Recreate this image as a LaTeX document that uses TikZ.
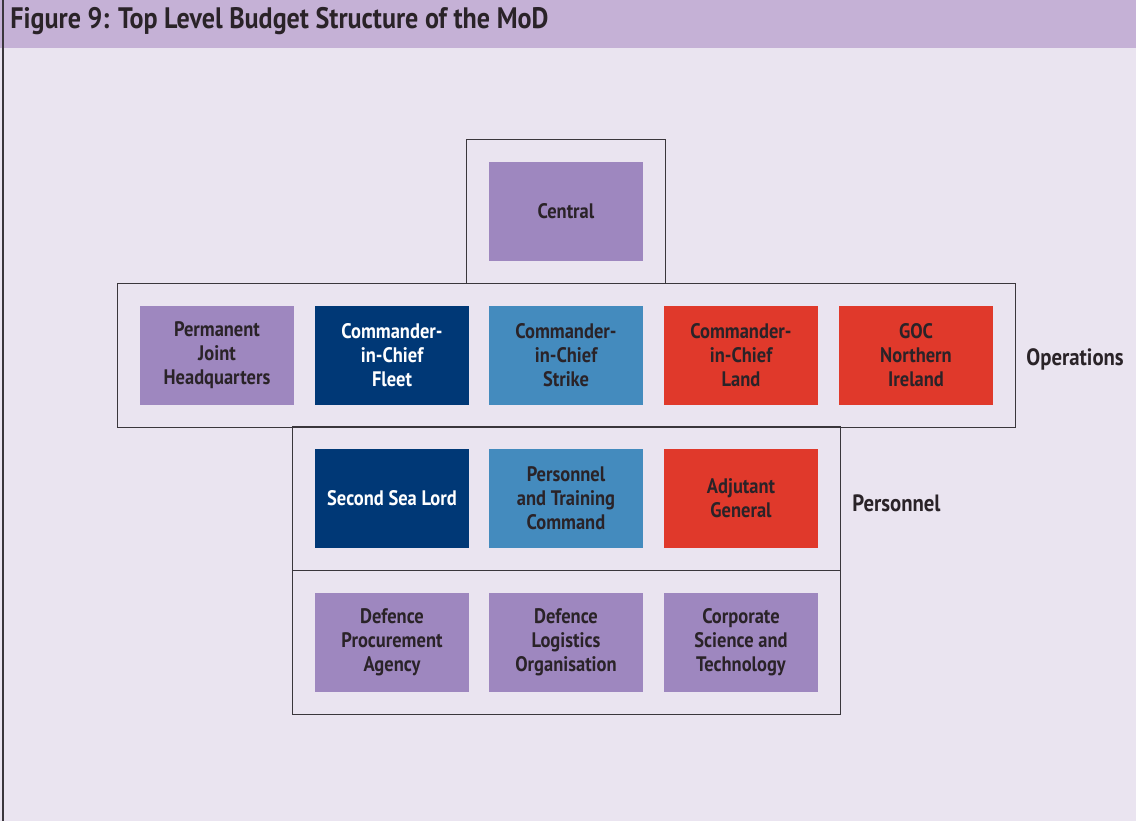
\documentclass[tikz,border=0pt]{standalone}
\usepackage{fontspec}
\setmainfont{PT Sans}[FakeStretch=0.88]
\usetikzlibrary{positioning,fit}

\definecolor{pagebg}{HTML}{EAE4F0}
\definecolor{headbg}{HTML}{C5B1D6}
\definecolor{lilac}{HTML}{9E87BF}
\definecolor{navy}{HTML}{003876}
\definecolor{skyblue}{HTML}{448BBE}
\definecolor{brickred}{HTML}{E0392B}
\definecolor{inkdark}{HTML}{2A2328}
\definecolor{framegray}{HTML}{3A363C}

\tikzset{
  unit/.style={minimum width=77pt, minimum height=49.5pt, inner sep=0pt,
    align=center, text=inkdark, font=\bfseries\fontsize{10.5}{12}\selectfont},
  purpleunit/.style={unit, fill=lilac},
  navyunit/.style={unit, fill=navy, text=white},
  blueunit/.style={unit, fill=skyblue},
  redunit/.style={unit, fill=brickred},
  groupframe/.style={draw=framegray, line width=0.55pt, inner sep=11.25pt},
  grouplabel/.style={anchor=west, inner sep=0pt, text=inkdark,
    font=\bfseries\fontsize{11.8}{14}\selectfont}
}

\begin{document}
\begin{tikzpicture}[x=0.5pt, y=-0.5pt]
\useasboundingbox (0,0) rectangle (1136,821);
\fill [pagebg] (0,0) rectangle (1136,821);
\fill [headbg] (0,0) rectangle (1136,48);
\draw [framegray, line width=0.6pt] (3,0) -- (3,821);
\node [anchor=west, inner sep=0pt, text=inkdark,
  font=\bfseries\fontsize{14.8}{17}\selectfont] (title) at (10,21)
  {Figure 9: Top Level Budget Structure of the MoD};

% top level
\node [purpleunit] (central) at (566,211.5) {Central};

% operations row
\node [purpleunit] (pjhq) at (217,355.5) {Permanent\\Joint\\Headquarters};
\node [navyunit] (fleet) at (392,355.5) {Commander-\\in-Chief\\Fleet};
\node [blueunit] (strike) at (566,355.5) {Commander-\\in-Chief\\Strike};
\node [redunit] (land) at (741,355.5) {Commander-\\in-Chief\\Land};
\node [redunit] (gocni) at (916,355.5) {GOC\\Northern\\Ireland};

% personnel row
\node [navyunit] (secondsealord) at (392,498.5) {Second Sea Lord};
\node [blueunit] (ptc) at (566,498.5) {Personnel\\and Training\\Command};
\node [redunit] (adjgen) at (741,498.5) {Adjutant\\General};

% support row
\node [purpleunit] (dpa) at (392,642.5) {Defence\\Procurement\\Agency};
\node [purpleunit] (dlo) at (566,642.5) {Defence\\Logistics\\Organisation};
\node [purpleunit] (cst) at (741,642.5) {Corporate\\Science and\\Technology};

% frames
\node [groupframe, fit=(central)] (centralframe) {};
\node [groupframe, fit=(pjhq)(gocni)] (opsframe) {};
\node [groupframe, fit=(secondsealord)(adjgen)] (persframe) {};
\node [groupframe, fit=(dpa)(cst)] (supportframe) {};

\node [grouplabel] (opslabel) at (1026,359) {Operations};
\node [grouplabel] (perslabel) at (852,503) {Personnel};
\end{tikzpicture}
\end{document}
